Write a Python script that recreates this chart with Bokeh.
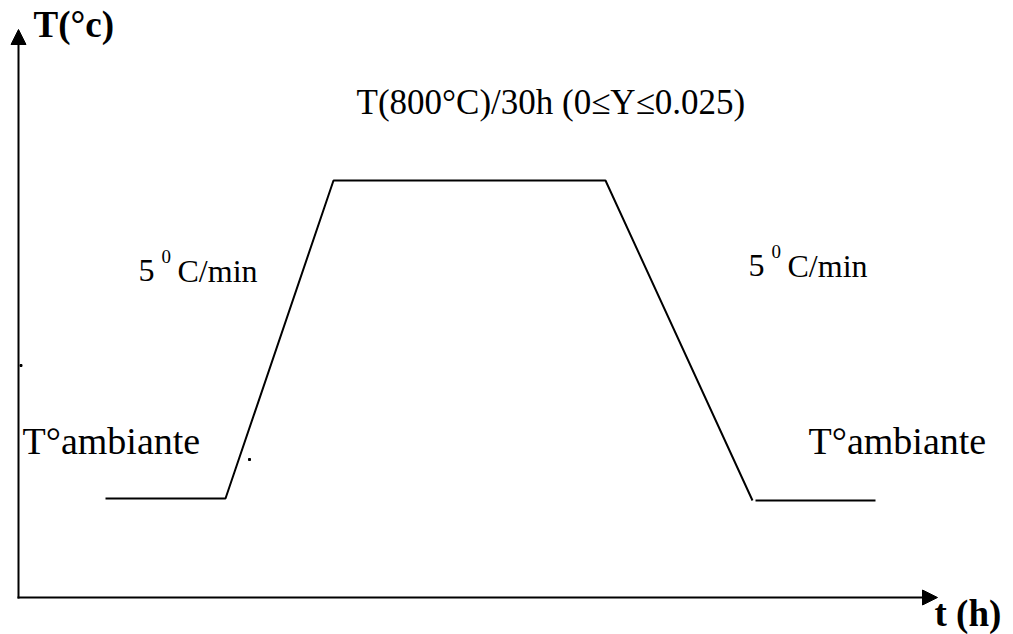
from bokeh.plotting import figure
from bokeh.models import Range1d, Arrow, NormalHead
from bokeh.core.properties import value
from bokeh.embed import file_html
from bokeh.resources import INLINE

W, H = 1013, 634

# heating profile (schematic units: time along x, temperature along y)
profile_t = [105, 225, 333, 605, 752]
profile_T = [136, 136, 454, 454, 134]
cool_t = [755, 875]
cool_T = [134, 134]

# annotations
plateau_label = "T(800°C)/30h (0≤Y≤0.025)"
rate_label = "C/min"
rate_num = "5"
rate_sup = "0"
amb_label = "T°ambiante"
y_label = "T(°c)"
x_label = "t (h)"

p = figure(width=W, height=H, x_range=Range1d(0, W), y_range=Range1d(0, H),
           x_axis_type=None, y_axis_type=None, toolbar_location=None,
           output_backend="svg", min_border=0)
p.outline_line_color = None
p.background_fill_color = "white"

# axes as arrows
p.add_layout(Arrow(x_start=18, y_start=H - 598, x_end=18, y_end=H - 29,
                   line_width=2, line_color="black",
                   end=NormalHead(size=15, fill_color="black", line_color="black")))
p.add_layout(Arrow(x_start=17, y_start=H - 597, x_end=937, y_end=H - 597,
                   line_width=2, line_color="black",
                   end=NormalHead(size=15, fill_color="black", line_color="black")))

# profile
p.line(profile_t, profile_T, line_color="black", line_width=2)
p.line(cool_t, cool_T, line_color="black", line_width=2)

# stray dots
p.scatter([20.5, 249], [H - 365, H - 459], size=2, marker="square",
          color="black")

serif = value("Liberation Serif")

def txt(x, y, s, size, bold=False):
    p.text([x], [H - y], text=[s], text_font=serif, text_font_size=size,
           text_font_style="bold" if bold else "normal",
           text_baseline="alphabetic", text_align="left", text_color="black")

txt(33, 24, y_label, "37px", True)
txt(934, 613, x_label, "37px", True)
txt(356, 102, plateau_label, "35px")
txt(138, 270, rate_num, "32px")
txt(161, 256, rate_sup, "19px")
txt(177, 270, rate_label, "32px")
txt(748, 265, rate_num, "32px")
txt(771, 251, rate_sup, "19px")
txt(787, 265, rate_label, "32px")
txt(22, 440, amb_label, "38px")
txt(808, 440, amb_label, "38px")

open("out.html", "w").write(file_html(p, INLINE))
